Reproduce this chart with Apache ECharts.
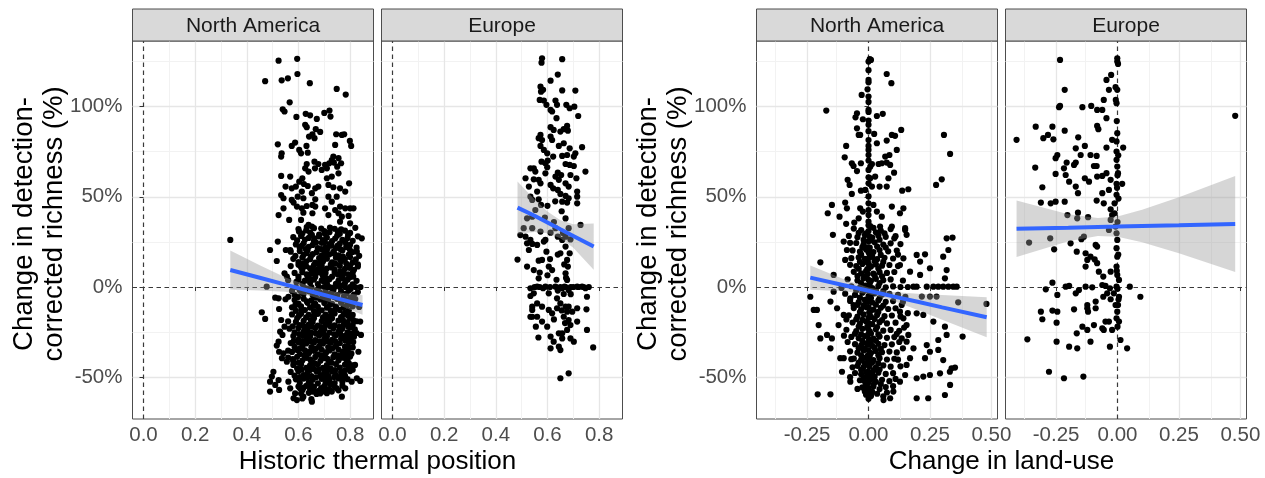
<!DOCTYPE html>
<html><head><meta charset="utf-8">
<script src="https://cdn.jsdelivr.net/npm/echarts@6/dist/echarts.min.js"></script>
<style>html,body{margin:0;padding:0;background:#fff}#c{width:1265px;height:478px}</style>
</head><body><div id="c"></div>
<script>
// ---------- text / tick labels ----------
const facetNames = ['North America', 'Europe', 'North America', 'Europe'];
const xTitles = ['Historic thermal position', 'Change in land-use'];
const yTitleLines = ['Change in detection-', 'corrected richness (%)'];
const thermalTicks = [0, 0.2, 0.4, 0.6, 0.8];
const thermalMinor = [0.1, 0.3, 0.5, 0.7];
const landTicks = [-0.25, 0, 0.25, 0.5];
const landMinor = [-0.375, -0.125, 0.125, 0.375];
const yTicks = [-50, 0, 50, 100];
const yMinor = [-25, 25, 75, 125];

// ---------- points: [x, change in richness %] ----------
const thermalNA = [
[0.523,125.5],[0.595,126.5],[0.471,114.1],[0.535,114.6],[0.559,115.7],[0.596,118.1],[0.644,113.0],[0.748,109.8],[0.783,106.7],[0.566,102.4],[0.539,98.5],[0.546,97.3],[0.592,94.3],[0.628,96.0],[0.645,95.2],[0.671,93.2],[0.700,96.5],[0.720,97.8],[0.724,94.5],[0.626,89.9],[0.632,88.6],[0.667,87.5],[0.684,86.0],[0.654,84.7],[0.641,83.4],[0.662,82.5],[0.746,84.7],[0.768,84.3],[0.777,84.7],[0.799,81.0],[0.804,78.2],[0.742,78.8],[0.520,79.1],[0.574,78.2],[0.587,80.1],[0.603,76.0],[0.610,74.1],[0.631,78.2],[0.636,74.5],[0.535,74.1],[0.533,72.3],[0.735,72.3],[0.755,71.4],[0.765,68.6],[0.750,66.7],[0.632,68.2],[0.626,65.8],[0.639,64.0],[0.662,69.5],[0.677,68.2],[0.664,65.8],[0.703,67.7],[0.719,68.6],[0.729,70.4],[0.737,69.0],[0.690,64.9],[0.710,65.8],[0.533,61.6],[0.568,61.2],[0.615,60.3],[0.603,58.4],[0.621,57.1],[0.550,55.7],[0.574,54.7],[0.590,55.7],[0.636,56.0],[0.665,54.7],[0.677,55.7],[0.710,60.3],[0.729,61.2],[0.755,63.0],[0.716,56.6],[0.735,55.3],[0.761,54.7],[0.781,52.9],[0.796,57.5],[0.533,51.0],[0.542,49.2],[0.574,48.3],[0.581,46.8],[0.613,52.9],[0.597,50.1],[0.619,49.2],[0.652,52.0],[0.665,48.6],[0.716,50.1],[0.729,47.3],[0.748,50.1],[0.594,44.6],[0.613,43.6],[0.632,44.9],[0.654,45.5],[0.665,44.6],[0.542,43.6],[0.523,39.9],[0.564,37.2],[0.610,37.2],[0.619,41.2],[0.654,40.9],[0.703,43.6],[0.716,39.9],[0.742,42.7],[0.761,44.6],[0.781,43.6],[0.800,43.6],[0.813,43.6],[0.755,40.9],[0.768,39.0],[0.794,39.4],[0.761,36.2],[0.800,35.3],[0.639,34.4],[0.652,33.5],
[0.336,26.1],[0.490,20.5],[0.520,25.2],[0.516,14.4],[0.551,20.5],[0.568,20.5],[0.546,7.6],[0.555,5.8],[0.477,0.2],[0.510,-5.9],[0.523,-6.3],[0.525,-12.2],[0.561,-5.4],[0.458,-14.0],[0.471,-17.7],[0.533,-18.3],[0.546,-22.0],[0.529,-24.8],[0.538,-26.6],[0.523,-30.3],[0.516,-32.5],[0.525,-35.9],[0.542,-36.8],[0.536,-39.5],[0.555,-41.4],[0.503,-47.0],[0.497,-49.7],[0.490,-52.5],[0.523,-51.6],[0.510,-54.3],[0.490,-58.0],[0.525,-57.1],
[0.561,-52.5],[0.568,-56.2],[0.587,-59.0],[0.581,-61.7],[0.594,-62.7],[0.619,-60.8],[0.606,-56.2],[0.652,-63.6],[0.665,-58.0],[0.684,-59.0],[0.703,-56.2],[0.729,-58.0],[0.748,-56.2],[0.768,-60.8],[0.781,-56.2],[0.806,-52.5],[0.826,-50.6],[0.839,-52.1],[0.845,27.0],[0.830,12.6],[0.826,19.6],[0.839,-19.2],[0.842,-26.6],[0.832,-35.9],[0.819,-43.2],
[0.60,32.1],[0.63,31.4],[0.66,32.6],[0.70,31.0],[0.74,32.3],[0.78,31.2],[0.82,32.8],
[0.615,29.6],[0.645,30.2],[0.68,29.1],[0.72,30.4],[0.76,29.5],[0.80,30.0],
[0.58,27.6],[0.61,28.3],[0.64,27.2],[0.68,28.0],[0.71,27.4],[0.75,28.5],[0.79,27.1],[0.83,28.1],
[0.595,25.8],[0.625,26.3],[0.66,25.5],[0.695,26.0],[0.73,25.4],[0.77,26.1],[0.81,25.6],
[0.59,23.6],[0.62,24.2],[0.655,23.3],[0.69,24.5],[0.72,23.8],[0.76,24.0],[0.80,23.4],
[0.605,21.7],[0.64,22.3],[0.675,21.5],[0.705,22.0],[0.745,21.6],[0.785,22.2],[0.825,21.8],
[0.57,19.6],[0.605,19.9],[0.635,20.4],[0.67,19.3],[0.70,20.1],[0.735,19.5],[0.77,20.3],[0.81,19.4],
[0.62,17.8],[0.655,18.2],[0.69,17.5],[0.72,18.1],[0.755,17.6],[0.795,18.0],[0.835,17.3],
[0.58,15.6],[0.615,16.3],[0.645,15.4],[0.68,16.0],[0.71,15.7],[0.745,16.2],[0.78,15.5],
[0.60,13.8],[0.63,14.2],[0.665,13.5],[0.695,14.1],[0.73,13.7],[0.765,14.3],[0.81,13.6],
[0.57,11.6],[0.60,12.3],[0.63,11.5],[0.66,12.1],[0.69,11.7],[0.725,12.4],[0.76,11.8],[0.80,12.0],[0.83,11.4],
[0.615,9.8],[0.645,10.3],[0.675,9.6],[0.71,10.2],[0.74,9.7],[0.78,10.1],[0.815,9.5],
[0.585,7.8],[0.615,8.2],[0.65,7.5],[0.675,8.1],[0.705,7.7],[0.74,8.3],[0.775,7.6],[0.81,8.0],
[0.60,5.8],[0.635,6.3],[0.665,5.6],[0.695,6.1],[0.73,5.7],[0.765,6.2],[0.80,5.5],
[0.56,3.8],[0.60,4.2],[0.625,3.5],[0.66,4.1],[0.69,3.7],[0.72,4.3],[0.755,3.6],[0.79,4.0],[0.825,3.4],
[0.615,1.8],[0.645,2.3],[0.675,1.6],[0.71,2.1],[0.745,1.7],[0.78,2.2],[0.81,1.5],
[0.59,0],[0.62,0],[0.65,0],[0.68,0],[0.70,0],[0.72,0],[0.74,0],[0.76,0],[0.78,0],[0.80,0],[0.82,0],[0.84,0],
[0.575,-2.2],[0.605,-1.8],[0.64,-2.4],[0.67,-1.7],[0.705,-2.3],[0.735,-1.9],[0.765,-2.5],[0.795,-2.0],
[0.585,-4.3],[0.62,-3.8],[0.655,-4.4],[0.69,-3.9],[0.72,-4.1],[0.75,-4.5],[0.785,-3.7],[0.815,-4.2],
[0.55,-6.8],[0.585,-7.2],[0.62,-6.5],[0.65,-7.4],[0.685,-6.9],[0.715,-7.1],[0.75,-6.6],[0.785,-7.3],[0.82,-6.7],
[0.60,-9.2],[0.635,-8.8],[0.665,-9.4],[0.70,-8.9],[0.73,-9.3],[0.765,-8.7],[0.80,-9.1],
[0.575,-11.3],[0.61,-10.8],[0.645,-11.4],[0.675,-11.0],[0.71,-11.5],[0.745,-10.9],[0.775,-11.2],[0.81,-10.7],[0.835,-11.1],
[0.59,-13.2],[0.625,-12.8],[0.66,-13.4],[0.69,-12.9],[0.725,-13.3],[0.76,-12.7],[0.795,-13.1],
[0.575,-15.2],[0.61,-14.8],[0.64,-15.4],[0.675,-14.9],[0.705,-15.3],[0.74,-14.7],[0.775,-15.1],[0.81,-15.5],
[0.595,-17.2],[0.63,-16.8],[0.66,-17.4],[0.695,-16.9],[0.73,-17.3],[0.765,-16.7],[0.80,-17.0],
[0.56,-19.1],[0.59,-19.3],[0.62,-18.8],[0.655,-19.4],[0.69,-18.9],[0.72,-19.2],[0.755,-18.7],[0.79,-19.5],[0.825,-19.0],
[0.605,-21.2],[0.64,-20.8],[0.675,-21.4],[0.705,-20.9],[0.74,-21.3],[0.775,-20.7],[0.81,-21.1],
[0.565,-23.1],[0.60,-22.7],[0.635,-23.3],[0.665,-22.8],[0.70,-23.4],[0.735,-22.9],[0.77,-23.2],[0.80,-22.6],
[0.585,-25.2],[0.62,-24.8],[0.65,-25.4],[0.685,-24.9],[0.72,-25.3],[0.755,-24.7],[0.79,-25.1],[0.825,-25.5],
[0.58,-27.2],[0.615,-26.8],[0.645,-27.4],[0.68,-26.9],[0.71,-27.3],[0.745,-26.7],[0.78,-27.1],[0.815,-27.6],
[0.60,-29.2],[0.63,-28.8],[0.665,-29.4],[0.70,-28.9],[0.73,-29.3],[0.765,-28.7],[0.80,-29.0],
[0.57,-31.1],[0.60,-30.7],[0.63,-31.3],[0.66,-30.8],[0.695,-31.4],[0.725,-30.9],[0.76,-31.2],[0.795,-30.6],
[0.585,-33.2],[0.615,-32.8],[0.65,-33.4],[0.68,-32.9],[0.715,-33.3],[0.745,-32.7],[0.78,-33.1],[0.81,-33.5],
[0.56,-35.3],[0.595,-34.9],[0.625,-35.1],[0.66,-35.4],[0.69,-34.8],[0.72,-35.2],[0.755,-34.7],[0.79,-35.5],
[0.605,-37.2],[0.64,-36.8],[0.675,-37.4],[0.705,-36.9],[0.74,-37.3],[0.77,-36.7],[0.805,-37.0],
[0.56,-39.1],[0.595,-38.7],[0.63,-39.3],[0.665,-38.8],[0.70,-39.4],[0.735,-38.9],[0.77,-39.2],[0.80,-38.6],
[0.58,-41.2],[0.615,-40.8],[0.65,-41.4],[0.685,-40.9],[0.72,-41.3],[0.755,-40.7],[0.79,-41.1],
[0.58,-43.2],[0.61,-42.8],[0.645,-43.4],[0.675,-42.9],[0.71,-43.3],[0.745,-42.7],[0.78,-43.1],[0.81,-43.5],
[0.595,-45.2],[0.63,-44.8],[0.66,-45.4],[0.695,-44.9],[0.725,-45.3],[0.76,-44.7],[0.795,-45.0],
[0.57,-47.1],[0.60,-46.7],[0.635,-47.3],[0.67,-46.8],[0.70,-47.4],[0.73,-46.9],[0.765,-47.2],[0.80,-46.6],
[0.585,-49.2],[0.62,-48.8],[0.65,-49.4],[0.685,-48.9],[0.715,-49.3],[0.745,-48.7],[0.78,-49.1],
[0.59,-51.2],[0.62,-50.8],[0.655,-51.4],[0.69,-50.9],[0.72,-51.3],[0.755,-50.7],[0.79,-51.1],
[0.605,-53.2],[0.64,-52.8],[0.675,-53.4],[0.705,-52.9],[0.74,-53.3],[0.77,-52.7],
[0.60,-55.2],[0.63,-54.8],[0.66,-55.4],[0.70,-54.9],[0.74,-55.3],[0.77,-54.7],
[0.615,-57.2],[0.645,-56.8],[0.68,-57.4],[0.72,-56.9],[0.755,-57.3],
[0.61,-59.1],[0.64,-58.7],[0.67,-59.3],[0.71,-58.9],
[0.615,-61.8],[0.65,-62.2],
[0.602,30.8],[0.652,28.9],[0.702,29.5],[0.752,30.9],[0.792,28.8],
[0.612,22.8],[0.668,24.6],[0.712,21.2],[0.752,22.9],[0.798,20.9],
[0.588,17.2],[0.632,18.9],[0.698,16.8],[0.738,18.6],[0.772,16.9],[0.822,15.3],
[0.61,10.9],[0.658,8.9],[0.692,9.2],[0.728,10.8],[0.762,8.8],[0.798,10.6],
[0.592,2.8],[0.632,-0.9],[0.698,3.0],[0.762,0.9],[0.802,-1.1],[0.83,-2.8],
[0.598,-5.6],[0.668,-5.9],[0.738,-5.6],[0.802,-5.8],
[0.588,-10.1],[0.658,-10.3],[0.722,-9.9],[0.788,-10.2],
[0.602,-15.9],[0.66,-15.8],[0.722,-16.1],[0.792,-15.9],
[0.578,-21.8],[0.652,-22.0],[0.722,-21.7],[0.792,-21.9],
[0.602,-26.1],[0.668,-25.9],[0.738,-26.2],[0.805,-26.0],
[0.582,-29.9],[0.648,-30.1],[0.712,-30.0],[0.782,-29.8],
[0.575,-36.0],[0.642,-35.9],[0.708,-36.1],[0.772,-35.8],
[0.578,-40.0],[0.645,-40.1],[0.712,-39.9],[0.785,-40.2],
[0.612,-45.9],[0.678,-46.0],[0.742,-46.1],[0.81,-45.9],
[0.605,-50.0],[0.668,-50.1],[0.738,-49.9],[0.772,-50.2],
[0.62,-55.9],[0.688,-56.0],[0.73,-53.8],
[0.632,33.2],[0.688,32.4],[0.722,33.0],[0.765,32.0],
[0.662,27.0],[0.702,25.0],[0.742,26.9],[0.782,24.6],
[0.628,21.0],[0.688,21.0],[0.728,22.9],[0.762,21.0],
[0.648,16.9],[0.708,18.9],[0.762,15.0],[0.80,16.6],
[0.618,12.9],[0.678,12.8],[0.742,12.9],[0.785,13.0],
[0.632,7.0],[0.692,7.0],[0.752,6.9],[0.792,7.0],
[0.642,4.8],[0.708,4.9],[0.772,4.9],[0.812,5.8],
[0.612,-3.0],[0.682,-3.0],[0.728,-3.2],[0.775,-5.5],
[0.632,-7.9],[0.702,-6.0],[0.768,-8.0],[0.81,-8.5],
[0.612,-12.5],[0.678,-13.6],[0.742,-12.4],[0.782,-14.0],
[0.648,-18.3],[0.708,-18.0],[0.772,-18.2],[0.812,-18.4],
[0.622,-22.0],[0.688,-22.2],[0.758,-22.1],[0.818,-23.5],
[0.635,-26.0],[0.698,-26.1],[0.762,-26.0],[0.795,-27.8],
[0.615,-30.0],[0.682,-30.1],[0.742,-30.0],[0.812,-30.5],
[0.605,-34.2],[0.668,-34.1],[0.732,-34.0],[0.795,-33.8],
[0.622,-38.0],[0.688,-38.1],[0.752,-38.0],[0.785,-37.5],
[0.60,-42.0],[0.662,-42.2],[0.728,-42.0],[0.795,-42.3],
[0.645,-46.0],[0.712,-46.1],[0.78,-46.2],
[0.635,-50.1],[0.702,-50.2],[0.762,-49.8],
[0.648,-54.1],[0.722,-54.0],[0.655,-58.0],[0.695,-57.9]
];
const thermalEU = [
[0.579,126.8],[0.577,124.4],[0.657,126.3],[0.640,117.8],[0.612,114.4],[0.573,111.1],[0.575,108.3],[0.583,109.3],[0.657,109.0],[0.708,108.9],[0.570,103.7],[0.586,103.4],[0.596,101.0],[0.612,98.2],[0.618,97.3],[0.631,103.4],[0.637,101.0],[0.673,101.0],[0.686,99.1],[0.704,100.0],[0.719,94.8],[0.635,93.6],[0.612,88.6],[0.624,87.1],[0.650,86.2],[0.663,87.5],[0.676,89.3],[0.679,86.7],[0.573,84.3],[0.579,81.5],[0.566,82.5],[0.612,83.4],[0.618,81.5],[0.644,78.2],[0.663,79.7],[0.573,78.2],[0.586,76.0],[0.599,74.1],[0.686,76.9],[0.734,77.5],[0.657,72.7],[0.676,73.2],[0.702,72.3],[0.708,74.1],[0.622,72.3],[0.601,70.1],[0.592,68.6],[0.577,69.5],[0.670,68.2],[0.686,67.7],[0.702,67.1],[0.547,65.8],[0.534,65.8],[0.553,64.0],[0.599,66.4],[0.592,63.0],[0.640,63.4],[0.653,62.1],[0.631,61.2],[0.644,59.4],[0.689,62.1],[0.712,60.3],[0.747,64.0],[0.515,60.3],[0.547,59.7],[0.573,57.5],[0.566,59.4],[0.612,56.6],[0.622,54.7],[0.640,53.8],[0.670,57.5],[0.682,55.7],[0.715,52.9],[0.715,50.1],[0.528,55.7],[0.560,52.9],[0.650,51.6],[0.670,50.5],[0.534,50.1],[0.541,48.3],[0.566,48.6],[0.575,45.5],[0.657,47.3],[0.676,46.8],[0.682,49.2],[0.715,46.4],[0.541,39.0],[0.521,38.1],[0.553,42.7],[0.508,32.6],[0.541,32.6],[0.515,27.9],[0.534,26.1],[0.573,30.7],[0.592,26.1],[0.612,30.1],[0.631,32.6],[0.640,27.9],[0.657,26.1],[0.670,27.9],[0.682,32.6],[0.689,26.4],[0.728,34.4],[0.495,28.8],[0.484,15.2],[0.521,24.2],[0.541,23.9],[0.528,20.5],[0.560,23.3],[0.566,14.6],[0.579,15.0],[0.586,25.2],[0.605,11.3],[0.618,9.4],[0.596,19.6],[0.650,18.7],[0.670,22.4],[0.686,18.7],[0.676,15.0],[0.679,11.3],[0.670,7.6],[0.676,3.9],[0.666,0.2],[0.682,-1.7],[0.521,11.3],[0.547,9.4],[0.566,4.8],[0.560,0.2],[0.534,-0.7],[0.547,-3.5],[0.534,-5.0],[0.541,-10.9],[0.541,-16.5],[0.592,0.2],[0.583,-0.7],[0.605,-3.5],[0.631,0.2],[0.640,-2.0],[0.657,-0.7],[0.663,-3.9],[0.637,-6.3],[0.650,-9.1],[0.670,-10.9],[0.676,-13.7],[0.663,-16.5],[0.682,-18.3],[0.689,-21.1],[0.676,-23.8],[0.657,-25.7],[0.689,-28.5],[0.702,-30.3],[0.715,0.2],[0.734,0.2],[0.747,-0.7],[0.753,-5.4],[0.751,-12.4],[0.753,-23.8],[0.715,-19.2],[0.777,-33.5],[0.560,-9.1],[0.579,-10.9],[0.605,-12.7],[0.618,-14.6],[0.637,-11.8],[0.579,-19.2],[0.599,-22.0],[0.612,-27.5],[0.624,-30.3],[0.644,-25.7],[0.657,-28.5],[0.644,-33.1],[0.682,-10.9],[0.696,-13.7],[0.715,-11.8],[0.650,-50.6],[0.682,-47.9],[0.541,-12.7],[0.534,-16.5],[0.560,-16.5],[0.650,-35.0],[0.612,-34.0],
[0.55,0],[0.57,0],[0.61,0],[0.65,0],[0.67,0],[0.69,0],[0.70,0],[0.72,0],[0.74,0],[0.76,0],
[0.60,45.0],[0.63,47.5],[0.655,42.0],[0.59,38.5],[0.625,36.0],[0.67,38.0],[0.64,18.0],[0.61,15.5],[0.665,12.5],[0.60,6.5],[0.635,4.0],[0.655,-13.0],[0.668,-20.0],[0.625,-18.0],[0.69,-4.0],[0.672,5.0],[0.66,30.0],[0.57,8.0],[0.555,-22.0],[0.565,-28.0]
];
const landNA = [
[0.005,126.3],[0.010,125.9],[0.000,125.0],[0.074,118.1],[0.093,113.0],[0.000,114.8],[0.000,113.5],[-0.004,109.6],[-0.028,106.5],[0.000,102.6],[-0.172,97.8],[0.000,98.2],[0.000,97.1],[-0.047,96.3],[-0.053,94.1],[-0.023,93.0],[0.034,94.8],[0.058,96.0],[0.000,89.9],[-0.047,88.0],[-0.040,84.3],[-0.034,84.3],[0.023,84.9],[0.034,79.7],[0.074,81.2],[0.095,84.3],[0.108,83.8],[0.133,87.1],[0.307,84.3],[0.332,73.8],[-0.091,78.2],[0.000,81.5],[0.000,78.2],[0.000,76.0],[0.000,73.2],[-0.097,71.9],[-0.068,68.6],[-0.061,67.1],[-0.031,68.6],[-0.047,64.3],[0.007,66.7],[0.000,64.9],[0.014,68.2],[0.041,68.2],[0.054,68.6],[0.074,69.0],[0.068,72.3],[0.088,67.7],[0.085,73.2],[0.115,76.0],[0.104,63.4],[-0.085,59.4],[-0.077,56.6],[0.027,61.2],[0.045,55.7],[0.007,60.3],[0.000,57.5],[0.014,55.7],[-0.013,53.8],[0.074,55.7],[0.081,60.3],[-0.031,53.4],[-0.068,51.6],[0.137,53.4],[0.162,54.2],[0.275,56.6],[0.298,59.7],[-0.149,45.5],[-0.166,40.9],[-0.118,39.0],[-0.095,46.8],[-0.088,43.6],[-0.034,43.6],[-0.023,41.8],[0.000,46.4],[0.000,42.7],[0.000,39.9],[0.020,45.5],[0.034,41.8],[0.054,39.0],[0.095,44.6],[0.128,40.9],[0.142,43.6],[-0.058,35.7],[-0.091,35.0],[-0.040,38.1],[0.000,36.2],[0.007,33.8],[0.047,33.5],[0.095,33.5],[0.149,32.6],
[-0.145,28.9],[-0.101,25.2],[-0.088,20.5],[-0.095,15.0],[-0.142,6.7],[-0.196,13.7],[-0.237,-5.4],[-0.223,-12.7],[-0.210,-12.7],[-0.203,-21.1],[-0.196,-28.5],[-0.155,-34.0],[-0.169,-26.6],[-0.149,-28.5],[-0.207,-59.5],[-0.155,-59.5],[-0.108,-47.0],[-0.074,-52.5],[-0.115,-39.5],[-0.101,-39.5],[-0.074,-6.3],[-0.061,-10.0],[-0.128,-11.8],[-0.101,-15.5],[-0.122,-21.1],[-0.142,-2.6],[-0.155,-8.1],[0.155,28.9],[0.149,31.6],[0.196,17.8],[0.230,18.1],[0.210,14.1],[0.250,10.4],[0.318,27.0],[0.342,27.4],[0.325,20.5],[0.304,16.8],[0.318,9.4],[0.311,4.8],[0.183,0.2],[0.196,0.2],[0.237,0.2],[0.264,0.2],[0.284,0.2],[0.304,0.2],[0.325,0.2],[0.345,0.2],[0.359,0.2],[0.217,-5.3],[0.250,-5.3],[0.277,-5.3],[0.365,-8.5],[0.480,-9.4],[0.196,-14.6],[0.223,-15.5],[0.264,-19.2],[0.311,-22.0],[0.318,-26.6],[0.383,-27.5],[0.284,-29.4],[0.237,-32.2],[0.250,-35.9],[0.230,-39.5],[0.284,-34.9],[0.304,-40.5],[0.338,-45.1],[0.352,-44.7],[0.331,-47.0],[0.291,-47.9],[0.250,-48.8],[0.223,-49.7],[0.196,-50.6],[0.196,-61.7],[0.243,-61.7],[0.311,-59.9],[0.332,-54.3],[0.128,-13.7],[0.142,-17.4],[0.155,-21.1],[0.162,-26.6],[0.135,-28.5],[0.155,-30.3],[0.183,-34.0],[0.169,-39.5],[0.155,-43.2],[0.149,-48.8],[0.128,-52.5],[0.101,-58.0],[0.088,-61.7],[0.142,15.9],[0.128,12.2],[0.169,8.5],[0.210,6.7],[0.061,-62.7],
[0,34.2],[0,31.0],[0.003,28.1],[0,25.3],[-0.002,22.0],[0,19.2],[0.002,16.1],[0,13.0],[0,10.1],[-0.003,7.2],[0,4.0],[0.002,1.1],[0,-2.0],[0,-5.1],[-0.002,-8.0],[0,-11.2],[0.003,-14.0],[0,-17.1],[0,-20.0],[-0.002,-23.1],[0,-26.0],[0.002,-29.2],[0,-32.0],[0,-35.1],[-0.003,-38.0],[0,-41.2],[0.002,-44.0],[0,-47.1],[0,-50.0],[-0.002,-53.2],[0,-56.0],[0.002,-59.1],[0,-62.0],[0,50.2],[0,60.8],[0,70.1],[0,86.4],[0,92.3],[0,105.6],[0,120.2],
[-0.06,32.4],[-0.03,31.6],[0.02,32.8],[0.05,31.2],[0.09,32.1],
[-0.08,28.3],[-0.045,27.6],[-0.015,28.8],[0.015,27.4],[0.04,28.5],[0.07,27.8],[0.11,28.2],
[-0.05,24.4],[-0.02,23.6],[0.025,24.8],[0.06,23.5],[0.09,24.2],[0.13,23.8],
[-0.065,20.3],[-0.035,19.6],[-0.01,20.8],[0.02,19.4],[0.045,20.5],[0.08,19.8],[0.115,20.2],
[-0.04,16.4],[-0.015,15.6],[0.015,16.8],[0.035,15.4],[0.065,16.2],[0.10,15.8],
[-0.075,12.3],[-0.05,11.6],[-0.025,12.8],[0.01,11.4],[0.03,12.5],[0.055,11.8],[0.085,12.2],[0.12,11.6],
[-0.06,8.4],[-0.03,7.6],[-0.01,8.8],[0.02,7.4],[0.045,8.2],[0.075,7.8],[0.105,8.3],
[-0.085,4.3],[-0.045,3.6],[-0.02,4.8],[0.01,3.4],[0.03,4.5],[0.06,3.8],[0.09,4.2],[0.14,3.6],
[-0.07,0.4],[-0.035,-0.4],[-0.012,0.8],[0.015,-0.6],[0.04,0.5],[0.07,-0.2],[0.10,0.3],[0.13,0],[0.16,0],
[-0.095,-3.7],[-0.055,-4.4],[-0.025,-3.2],[0.005,-4.6],[0.025,-3.5],[0.055,-4.2],[0.085,-3.8],[0.12,-4.3],
[-0.075,-7.7],[-0.04,-8.4],[-0.015,-7.2],[0.015,-8.6],[0.04,-7.5],[0.07,-8.2],[0.10,-7.8],[0.14,-8.3],
[-0.06,-11.7],[-0.03,-12.4],[-0.008,-11.2],[0.02,-12.6],[0.05,-11.5],[0.08,-12.2],[0.11,-11.8],
[-0.08,-15.7],[-0.045,-16.4],[-0.02,-15.2],[0.01,-16.6],[0.035,-15.5],[0.065,-16.2],[0.095,-15.8],[0.13,-16.3],
[-0.065,-19.7],[-0.035,-20.4],[-0.01,-19.2],[0.015,-20.6],[0.045,-19.5],[0.075,-20.2],[0.11,-19.8],
[-0.09,-23.7],[-0.05,-24.4],[-0.025,-23.2],[0.005,-24.6],[0.03,-23.5],[0.06,-24.2],[0.09,-23.8],[0.125,-24.3],
[-0.07,-27.7],[-0.04,-28.4],[-0.015,-27.2],[0.02,-28.6],[0.045,-27.5],[0.075,-28.2],[0.105,-27.8],
[-0.055,-31.7],[-0.03,-32.4],[-0.008,-31.2],[0.015,-32.6],[0.04,-31.5],[0.065,-32.2],[0.095,-31.8],
[-0.075,-35.7],[-0.045,-36.4],[-0.02,-35.2],[0.01,-36.6],[0.03,-35.5],[0.055,-36.2],[0.085,-35.8],[0.115,-36.3],
[-0.06,-39.7],[-0.03,-40.4],[-0.01,-39.2],[0.02,-40.6],[0.045,-39.5],[0.075,-40.2],[0.105,-39.8],
[-0.045,-43.7],[-0.02,-44.4],[0.005,-43.2],[0.03,-44.6],[0.06,-43.5],[0.09,-44.2],
[-0.055,-47.7],[-0.03,-48.4],[-0.01,-47.2],[0.015,-48.6],[0.04,-47.5],[0.07,-48.2],[0.10,-47.8],
[-0.035,-51.7],[-0.015,-52.4],[0.01,-51.2],[0.03,-52.6],[0.055,-51.5],[0.085,-52.2],
[-0.025,-55.7],[-0.005,-56.4],[0.02,-55.2],[0.045,-56.6],[0.07,-55.5],
[-0.01,-59.7],[0.01,-60.4],[0.035,-59.2],[0.06,-60.6],
[-0.04,30.0],[-0.01,29.7],[0.03,30.3],[0.065,29.8],
[-0.025,22.1],[0.005,21.8],[0.035,22.4],[0.07,21.9],
[-0.035,14.0],[-0.005,13.7],[0.025,14.3],[0.06,13.9],
[-0.045,6.1],[-0.015,5.8],[0.025,6.3],[0.055,5.9],
[-0.05,-1.9],[-0.02,-2.2],[0.03,-1.8],[0.06,-2.3],
[-0.045,-9.9],[-0.02,-10.2],[0.03,-9.8],[0.06,-10.3],
[-0.05,-17.9],[-0.025,-18.2],[0.025,-17.8],[0.055,-18.3],
[-0.055,-25.9],[-0.03,-26.2],[0.01,-25.8],[0.04,-26.3],
[-0.04,-33.9],[-0.015,-34.2],[0.025,-33.8],[0.05,-34.3],
[-0.04,-41.9],[-0.015,-42.2],[0.015,-41.8],[0.04,-42.3],
[-0.02,-49.9],[0.005,-50.2],[0.025,-49.8],
[-0.015,-57.9],[0.015,-58.2],
[-0.02,26.1],[0.01,25.9],[0.045,26.2],[-0.03,17.9],[0.005,18.1],[0.05,17.8],[-0.04,10.1],[-0.005,9.9],[0.04,10.2],[-0.03,2.1],[0.005,1.9],[0.045,2.2],[-0.035,-5.9],[0.01,-6.1],[0.045,-6.2],[-0.035,-13.9],[0.005,-14.2],[0.04,-13.8],[-0.04,-21.9],[-0.005,-22.1],[0.035,-22.2],[-0.025,-29.9],[0.01,-30.1],[0.03,-29.8],[-0.03,-37.9],[0.005,-38.2],[0.04,-37.8],[-0.03,-45.9],[0.02,-46.1],[0.045,-45.8],[-0.01,-53.9],[0.02,-54.1],[0.05,-53.8],
[-0.085,-30.5],[-0.07,-40.0],[0.12,-40.3],[0.13,-44.0],[0.11,-51.0],[-0.065,-44.5],[-0.075,-50.0],[0.10,-55.0],[0.075,-58.5],[-0.045,-56.5],[0.125,-30.5],[0.14,-34.0],[0.115,-26.0],[-0.09,-18.0],[-0.10,-27.0],[0.145,-22.5],[0.135,-10.0],[0.16,-14.5],[0.15,-5.5],[-0.11,-0.5],[0.12,18.0],[0.105,27.0],[-0.075,24.5],[-0.07,16.0]
];
const landEU = [
[-0.234,125.9],[-0.001,126.8],[-0.001,125.0],[0.002,123.7],[-0.026,117.6],[-0.045,114.8],[-0.035,109.3],[-0.008,110.8],[-0.001,109.3],[-0.056,103.7],[-0.045,93.6],[-0.083,98.2],[-0.062,98.2],[-0.007,103.7],[-0.004,101.9],[-0.215,109.3],[-0.234,100.4],[-0.238,99.7],[-0.143,99.7],[-0.107,100.4],[-0.333,88.9],[-0.265,88.9],[-0.215,86.7],[-0.083,89.3],[-0.078,87.5],[-0.411,81.6],[-0.302,82.5],[-0.283,84.3],[-0.261,81.9],[-0.160,83.0],[-0.133,78.2],[-0.001,85.3],[-0.004,80.7],[-0.022,81.6],[0.023,77.3],[-0.045,77.3],[-0.335,66.2],[-0.252,71.4],[-0.245,73.2],[-0.170,76.9],[-0.150,73.2],[-0.110,73.2],[-0.085,72.7],[-0.170,69.0],[-0.207,69.0],[-0.177,67.7],[-0.252,62.7],[-0.218,65.8],[-0.211,62.1],[-0.197,58.4],[-0.170,55.7],[-0.161,52.0],[-0.133,60.3],[-0.116,58.4],[-0.096,67.1],[-0.085,67.1],[-0.083,61.2],[-0.062,61.6],[-0.045,63.1],[-0.028,59.4],[-0.035,53.8],[-0.062,52.0],[-0.004,75.1],[-0.004,70.5],[-0.001,66.8],[0.002,63.1],[0.019,57.2],[-0.004,57.2],[-0.004,51.1],[-0.012,46.4],[-0.306,55.3],[-0.312,46.8],[-0.272,46.4],[-0.252,47.3],[-0.215,47.3],[-0.204,39.9],[-0.161,41.2],[-0.164,38.1],[-0.120,38.7],[-0.085,47.9],[-0.056,46.4],[-0.028,43.1],[-0.022,39.9],[-0.360,24.6],[-0.274,27.0],[-0.258,20.9],[-0.191,24.2],[-0.147,26.5],[-0.137,27.9],[-0.089,23.3],[-0.083,22.4],[-0.035,31.6],[-0.028,37.2],[-0.012,40.9],[-0.008,33.5],[-0.004,29.8],[-0.001,26.1],[-0.166,19.6],[-0.130,18.7],[-0.123,15.0],[-0.110,16.8],[-0.093,15.3],[-0.083,13.2],[-0.130,11.3],[-0.076,8.5],[-0.058,5.8],[-0.028,8.5],[-0.004,21.5],[-0.001,16.8],[-0.004,11.3],[-0.001,6.7],[0.006,3.9],[-0.292,-1.3],[-0.265,2.4],[-0.245,-4.4],[-0.211,0.2],[-0.197,0.6],[-0.170,-3.5],[-0.157,-1.7],[-0.130,0.2],[-0.103,-0.2],[-0.062,1.1],[-0.049,0.6],[-0.042,-3.5],[-0.031,-0.7],[-0.015,-3.5],[-0.004,0.2],[0.006,-5.4],[0.050,0.2],[0.093,-5.4],[-0.312,-13.7],[-0.306,-17.9],[-0.265,-13.1],[-0.245,-13.7],[-0.248,-19.8],[-0.177,-12.4],[-0.123,-10.0],[-0.123,-11.8],[-0.120,-13.7],[-0.089,-8.1],[-0.089,-11.8],[-0.058,-5.4],[-0.028,-6.8],[-0.008,-10.0],[-0.001,-13.7],[-0.004,-17.4],[0.006,-19.2],[0.002,-10.0],[-0.367,-29.0],[-0.248,-30.3],[-0.197,-33.1],[-0.164,-34.0],[-0.166,-25.7],[-0.143,-22.0],[-0.123,-23.8],[-0.110,-30.3],[-0.096,-21.1],[-0.062,-22.9],[-0.056,-23.8],[-0.049,-19.2],[-0.035,-19.2],[-0.022,-23.8],[-0.031,-33.1],[0.012,-29.4],[0.039,-34.0],[-0.279,-47.0],[-0.218,-50.6],[-0.139,-49.7],[0.479,94.9],[-0.003,92.0],[0.003,73.0],[0,62.0],[-0.002,55.0],[0.004,49.0],[0,36.0],[0.003,18.0],[-0.003,9.0],[0,-1.0],[0.004,-7.0],[0,-22.0]
];

// ---------- linear fits with 95% bands ----------
const thermalNAFitX = [0.336, 0.45, 0.55, 0.65, 0.75, 0.848];
const thermalNAFit  = [9.4, 5.1, 1.3, -2.5, -6.3, -10.0];
const thermalNALo   = [-1.4, -1.9, -2.7, -5.1, -9.7, -15.4];
const thermalNAHi   = [20.2, 12.1, 5.3, 0.1, -2.9, -4.6];
const thermalEUFitX = [0.484, 0.55, 0.60, 0.65, 0.70, 0.779];
const thermalEUFit  = [44.0, 39.5, 35.8, 32.0, 28.3, 22.4];
const thermalEULo   = [29.5, 30.5, 29.8, 27.0, 21.8, 9.6];
const thermalEUHi   = [58.5, 48.5, 41.8, 37.0, 34.8, 35.2];
const landNAFitX = [-0.237, -0.1, 0.0, 0.1, 0.2, 0.3, 0.481];
const landNAFit  = [5.2, 1.0, -2.1, -5.2, -8.2, -11.3, -16.8];
const landNALo   = [-1.5, -2.3, -3.9, -7.6, -12.7, -18.1, -27.9];
const landNAHi   = [11.9, 4.3, -0.3, -2.8, -3.7, -4.5, -5.7];
const landEUFitX = [-0.411, -0.2, -0.08, 0.0, 0.1, 0.25, 0.479];
const landEUFit  = [32.3, 32.9, 33.3, 33.5, 33.8, 34.2, 34.9];
const landEULo   = [16.6, 25.4, 28.3, 27.9, 24.8, 18.7, 8.3];
const landEUHi   = [48.0, 40.4, 38.3, 39.1, 42.8, 49.7, 61.5];

// ---------- layout ----------
const FONT = "'Liberation Sans', Arial, Helvetica, sans-serif";
const panels = [
  {left: 132.5, width: 241, kind: 'thermal'},
  {left: 381.5, width: 241, kind: 'thermal'},
  {left: 756.5, width: 241, kind: 'land'},
  {left: 1005.5, width: 241, kind: 'land'}
];
const PTOP = 41, PH = 378, STRIP_TOP = 9;
const X_RANGE = {thermal: [-0.0426, 0.8905], land: [-0.456, 0.525]};
const Y_RANGE = [-73.2, 136.4];

const facetData = [
  {pts: thermalNA, fx: thermalNAFitX, fy: thermalNAFit, lo: thermalNALo, hi: thermalNAHi},
  {pts: thermalEU, fx: thermalEUFitX, fy: thermalEUFit, lo: thermalEULo, hi: thermalEUHi},
  {pts: landNA, fx: landNAFitX, fy: landNAFit, lo: landNALo, hi: landNAHi},
  {pts: landEU, fx: landEUFitX, fy: landEUFit, lo: landEULo, hi: landEUHi}
];

const grids = [], xAxes = [], yAxes = [], series = [], graphics = [];
const minorStyle = {color: '#F2F2F2', width: 1, type: 'solid'};
const majorStyle = {color: '#E6E6E6', width: 1.3, type: 'solid'};
const dashStyle = {color: '#3a3a3a', width: 1.2, type: [4.5, 3.5]};

panels.forEach((p, i) => {
  const isThermal = p.kind === 'thermal';
  const ticks = isThermal ? thermalTicks : landTicks;
  const minor = isThermal ? thermalMinor : landMinor;
  grids.push({left: p.left, top: PTOP, width: p.width, height: PH, show: true,
    borderColor: '#4d4d4d', borderWidth: 1, backgroundColor: 'transparent',
    containLabel: false, outerBoundsMode: 'none'});
  xAxes.push({type: 'value', gridIndex: i, min: X_RANGE[p.kind][0], max: X_RANGE[p.kind][1],
    axisLine: {show: false}, splitLine: {show: false},
    axisTick: {show: true, customValues: ticks, length: 4, lineStyle: {color: '#333', width: 1}},
    axisLabel: {show: true, customValues: ticks, formatter: v => v.toFixed(isThermal ? 1 : 2),
      color: '#4D4D4D', fontSize: 20.5, fontFamily: FONT, margin: 6}});
  const showY = (i === 0 || i === 2);
  yAxes.push({type: 'value', gridIndex: i, min: Y_RANGE[0], max: Y_RANGE[1],
    axisLine: {show: false}, splitLine: {show: false},
    axisTick: {show: showY, customValues: yTicks, length: 4, lineStyle: {color: '#333', width: 1}},
    axisLabel: {show: showY, customValues: yTicks, formatter: v => v + '%',
      color: '#4D4D4D', fontSize: 20.5, fontFamily: FONT, margin: 10}});

  const mlData = [];
  minor.forEach(v => mlData.push({xAxis: v, lineStyle: minorStyle}));
  yMinor.forEach(v => mlData.push({yAxis: v, lineStyle: minorStyle}));
  ticks.forEach(v => { if (v !== 0) mlData.push({xAxis: v, lineStyle: majorStyle}); });
  yTicks.forEach(v => { if (v !== 0) mlData.push({yAxis: v, lineStyle: majorStyle}); });
  series.push({type: 'scatter', xAxisIndex: i, yAxisIndex: i, data: [], z: 0, silent: true,
    markLine: {silent: true, symbol: 'none', z: 0, animation: false, label: {show: false},
      emphasis: {disabled: true}, data: mlData}});
  series.push({type: 'scatter', xAxisIndex: i, yAxisIndex: i, data: [], z: 1, silent: true,
    markLine: {silent: true, symbol: 'none', z: 1, animation: false, label: {show: false},
      emphasis: {disabled: true},
      data: [{xAxis: 0, lineStyle: dashStyle}, {yAxis: 0, lineStyle: dashStyle}]}});

  const d = facetData[i];
  series.push({type: 'scatter', xAxisIndex: i, yAxisIndex: i, data: d.pts, z: 2, silent: true,
    symbol: 'circle', symbolSize: 6.2, itemStyle: {color: '#000', opacity: 1}});
  series.push({type: 'custom', xAxisIndex: i, yAxisIndex: i, z: 3, silent: true,
    data: d.fx.map((x, k) => [x, d.fy[k]]),
    renderItem: (params, api) => {
      if (params.dataIndex !== 0) return null;
      const pts = [];
      for (let k = 0; k < d.fx.length; k++) pts.push(api.coord([d.fx[k], d.hi[k]]));
      for (let k = d.fx.length - 1; k >= 0; k--) pts.push(api.coord([d.fx[k], d.lo[k]]));
      return {type: 'polygon', shape: {points: pts}, style: {fill: 'rgba(153,153,153,0.4)'}};
    }});
  series.push({type: 'line', xAxisIndex: i, yAxisIndex: i, z: 4, silent: true,
    data: d.fx.map((x, k) => [x, d.fy[k]]), showSymbol: false, symbol: 'none',
    lineStyle: {color: '#3366FF', width: 4}});

  // facet strip
  graphics.push({type: 'rect', shape: {x: p.left, y: STRIP_TOP, width: p.width, height: PTOP - STRIP_TOP},
    style: {fill: '#D9D9D9', stroke: '#4d4d4d', lineWidth: 1}, z: 10});
  graphics.push({type: 'text', x: p.left + p.width / 2, y: STRIP_TOP + (PTOP - STRIP_TOP) / 2 + 1,
    style: {text: facetNames[i], fill: '#1A1A1A', fontSize: 21, fontFamily: FONT,
      align: 'center', verticalAlign: 'middle', textAlign: 'center', textVerticalAlign: 'middle'}, z: 11});
});

// axis titles
[[0, 1], [2, 3]].forEach((pair, j) => {
  const a = panels[pair[0]], b = panels[pair[1]];
  const cx = (a.left + b.left + b.width) / 2;
  graphics.push({type: 'text', x: cx, y: 462,
    style: {text: xTitles[j], fill: '#000', fontSize: 26, fontFamily: FONT,
      align: 'center', verticalAlign: 'middle', textAlign: 'center', textVerticalAlign: 'middle'}});
  const off = a.left - 132.5;
  [24, 54].forEach((lx, k) => {
    graphics.push({type: 'text', x: lx + off, y: 224, rotation: Math.PI / 2,
      style: {text: yTitleLines[k], fill: '#000', fontSize: 27.5, fontFamily: FONT,
        align: 'center', verticalAlign: 'middle', textAlign: 'center', textVerticalAlign: 'middle'}});
  });
});

const chart = echarts.init(document.getElementById('c'), null, {renderer: 'canvas', width: 1265, height: 478});
chart.setOption({
  animation: false,
  backgroundColor: '#fff',
  grid: grids, xAxis: xAxes, yAxis: yAxes, series: series, graphic: graphics
});
</script>
</body></html>
